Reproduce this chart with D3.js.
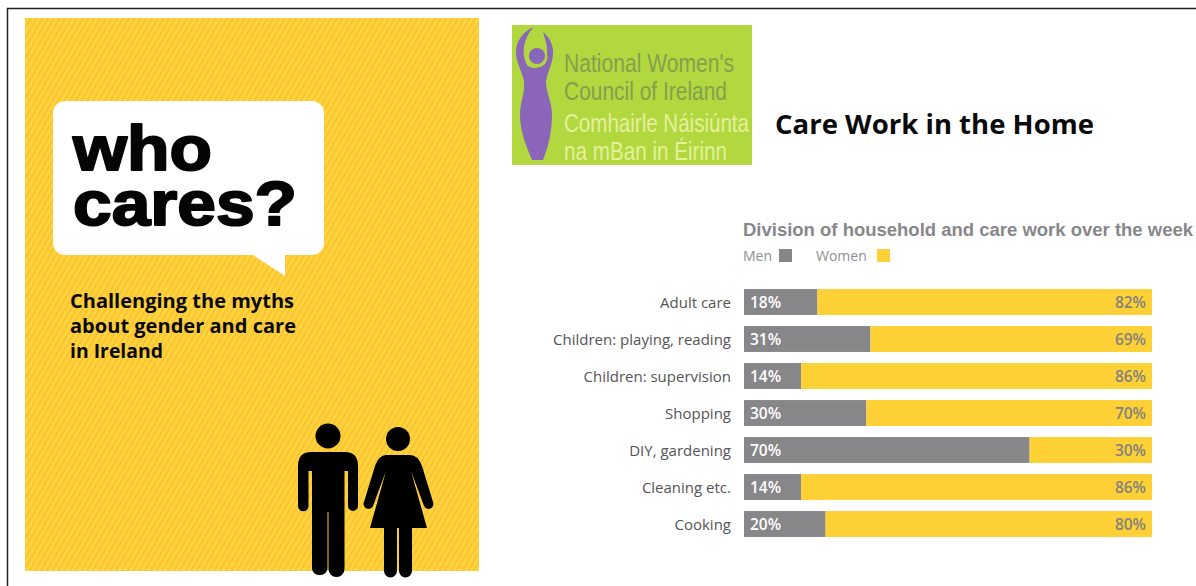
<!DOCTYPE html>
<html>
<head>
<meta charset="utf-8">
<style>
  html, body { margin: 0; padding: 0; background: #fff; }
  svg { display: block; }
</style>
<script src="https://cdn.jsdelivr.net/npm/d3@7"></script>
</head>
<body>
<svg id="page" width="1196" height="586"></svg>
<script>
// Household and care work, percentage split by gender
const categories = ["Adult care", "Children: playing, reading", "Children: supervision",
                    "Shopping", "DIY, gardening", "Cleaning etc.", "Cooking"];
const menShare = [18, 31, 14, 30, 70, 14, 20];
const womenShare = [82, 69, 86, 70, 30, 86, 80];
const legendLabels = ["Men", "Women"];
const seriesColors = ["#878688", "#fdd035"];

const coverLines = ["Challenging the myths", "about gender and care", "in Ireland"];
const coverLineWidths = [224, 226, 93];
const logoLines = ["National Women's", "Council of Ireland", "Comhairle Náisiúnta", "na mBan in Éirinn"];

const svg = d3.select("#page");
const defs = svg.append("defs");

// Outer frame: top and left rules only
svg.append("path").attr("d", "M7.5,586V8.5H1196")
  .attr("fill", "none").attr("stroke", "#222").attr("stroke-width", 1.5);

// ---- Report cover ----
const stripes = defs.append("pattern").attr("id", "stripes")
  .attr("patternUnits", "userSpaceOnUse").attr("width", 5).attr("height", 5)
  .attr("patternTransform", "rotate(30)");
stripes.append("rect").attr("width", 5).attr("height", 5).attr("fill", "#ffd43a");
stripes.append("rect").attr("width", 1.6).attr("height", 5).attr("fill", "#f9bf36");

const cover = svg.append("g");
cover.append("rect").attr("x", 25).attr("y", 18).attr("width", 454).attr("height", 553)
  .attr("fill", "url(#stripes)");

// Speech bubble with its tail
cover.append("path")
  .attr("d", "M65,101H312a12,12 0 0 1 12,12V243a12,12 0 0 1 -12,12H285V276L253,255H65a12,12 0 0 1 -12,-12V113a12,12 0 0 1 12,-12Z")
  .attr("fill", "#fff");

const heading = cover.append("g")
  .attr("font-family", "'Liberation Sans', Arial, sans-serif")
  .attr("font-weight", 700).attr("font-size", 63)
  .attr("fill", "#050505").attr("stroke", "#050505").attr("stroke-width", 2)
  .attr("stroke-linejoin", "round");
heading.append("text").attr("x", 73).attr("y", 170).attr("textLength", 139)
  .attr("lengthAdjust", "spacingAndGlyphs").text("who");
heading.append("text").attr("x", 73).attr("y", 225).attr("textLength", 224)
  .attr("lengthAdjust", "spacingAndGlyphs").text("cares?");

cover.append("g").selectAll("text").data(coverLines).join("text")
  .attr("x", 70).attr("y", (d, i) => 308 + i * 25)
  .attr("font-family", "'Open Sans', sans-serif").attr("font-weight", 700)
  .attr("font-size", 19).attr("textLength", (d, i) => coverLineWidths[i])
  .attr("lengthAdjust", "spacingAndGlyphs").attr("fill", "#0a0a0a").text(d => d);

// Pictograms of a man and a woman
const people = cover.append("g").attr("fill", "#000");
people.append("circle").attr("cx", 328).attr("cy", 436).attr("r", 12.5);
people.append("path").attr("d",
  "M311,452H345Q358,452 358,466V506a5,5 0 0 1 -10,0V471H344.5V569a8,8 0 0 1 -16,0V512H327.5V569a8,8 0 0 1 -15.5,0V471H308.5V506a5,5 0 0 1 -10.5,0V466Q298,452 311,452Z");
people.append("circle").attr("cx", 398).attr("cy", 439).attr("r", 12);
people.append("path").attr("d",
  "M386,455H410Q418,455 422,466L433,502a4.5,4.5 0 0 1 -9,4L411,471L427,528H412V571a6.5,6.5 0 0 1 -13,0V528H397V571a6.5,6.5 0 0 1 -13,0V528H370L386,471L373,506a4.5,4.5 0 0 1 -9,-4L375,466Q379,455 386,455Z");

// ---- Council logo ----
const logo = svg.append("g");
logo.append("rect").attr("x", 512).attr("y", 25).attr("width", 240).attr("height", 140).attr("fill", "#b1d83f");
logo.append("path").attr("d",
  "M534,27C522,32 516,42 516,52C516,64 523,72 524,82C525,94 520,102 520,115C520,132 527,148 532,160H543C548,148 552,132 552,115C552,102 546,92 546,82C547,72 554,62 553,50C552,42 548,36 543,32C546,42 549,50 546,60C542,68 534,70 528,66C522,58 521,40 534,27Z")
  .attr("fill", "#8a65b9");
logo.append("circle").attr("cx", 537).attr("cy", 57).attr("r", 10.5).attr("fill", "#b1d83f");
logo.append("circle").attr("cx", 537).attr("cy", 56).attr("r", 8).attr("fill", "#8a65b9");

const logoBaselines = [72, 100, 132, 160];
const logoWidths = [170, 163, 185, 163];
logo.append("g").selectAll("text").data(logoLines).join("text")
  .attr("x", 564).attr("y", (d, i) => logoBaselines[i])
  .attr("textLength", (d, i) => logoWidths[i]).attr("lengthAdjust", "spacingAndGlyphs")
  .attr("font-family", "'Liberation Sans', sans-serif").attr("font-size", 25)
  .attr("fill", (d, i) => i < 2 ? "#83a04c" : "#e4f19c").text(d => d);

// Page title
svg.append("text").attr("x", 775).attr("y", 134)
  .attr("font-family", "'Open Sans', sans-serif").attr("font-weight", 700).attr("font-size", 26)
  .attr("textLength", 319).attr("lengthAdjust", "spacingAndGlyphs")
  .attr("fill", "#0a0a0a").text("Care Work in the Home");

// ---- Stacked bar chart ----
svg.append("text").attr("x", 743).attr("y", 236)
  .attr("font-family", "'Liberation Sans', Arial, sans-serif").attr("font-weight", 700)
  .attr("font-size", 17.5).attr("textLength", 450).attr("lengthAdjust", "spacingAndGlyphs")
  .attr("fill", "#87878b").text("Division of household and care work over the week");

// Legend
const legendTextX = [743, 816];
const legendSwatchX = [779, 877];
const legend = svg.append("g").selectAll("g").data(legendLabels).join("g");
legend.append("text").attr("x", (d, i) => legendTextX[i]).attr("y", 261)
  .attr("font-family", "'Open Sans', sans-serif").attr("font-size", 14)
  .attr("fill", "#8f8f92").text(d => d);
legend.append("rect").attr("x", (d, i) => legendSwatchX[i]).attr("y", 249)
  .attr("width", 13).attr("height", 13).attr("fill", (d, i) => seriesColors[i]);

const x = d3.scaleLinear().domain([0, 100]).range([744, 1152]);
const y = d3.scaleBand().domain(categories).range([283.5, 542.5])
  .paddingInner(0.3).paddingOuter(0.15);

const rows = categories.map((c, i) => ({ category: c, men: menShare[i], women: womenShare[i] }));
const stack = d3.stack().keys(["men", "women"])(rows);

svg.append("g").selectAll("g").data(stack).join("g")
  .attr("fill", (s, i) => seriesColors[i])
  .selectAll("rect").data(s => s).join("rect")
  .attr("x", d => x(d[0]))
  .attr("y", d => y(d.data.category))
  .attr("width", d => x(d[1]) - x(d[0]))
  .attr("height", y.bandwidth());

const valueLabels = svg.append("g")
  .attr("font-family", "'Open Sans', sans-serif").attr("font-weight", 600).attr("font-size", 15.5);
valueLabels.selectAll(".men").data(rows).join("text").attr("class", "men")
  .attr("x", x(0) + 6).attr("y", d => y(d.category) + y.bandwidth() / 2 + 6)
  .attr("fill", "#fff").text(d => d.men + "%");
valueLabels.selectAll(".women").data(rows).join("text").attr("class", "women")
  .attr("x", x(100) - 6).attr("y", d => y(d.category) + y.bandwidth() / 2 + 6)
  .attr("text-anchor", "end").attr("fill", "#84827f").text(d => d.women + "%");

// Category labels come from a left axis with its line and ticks removed
const axis = svg.append("g").attr("transform", "translate(731,1)")
  .call(d3.axisLeft(y).tickSize(0).tickPadding(0));
axis.select(".domain").remove();
axis.selectAll("text")
  .attr("font-family", "'Open Sans', sans-serif").attr("font-size", 15).attr("fill", "#555");
</script>
</body>
</html>
